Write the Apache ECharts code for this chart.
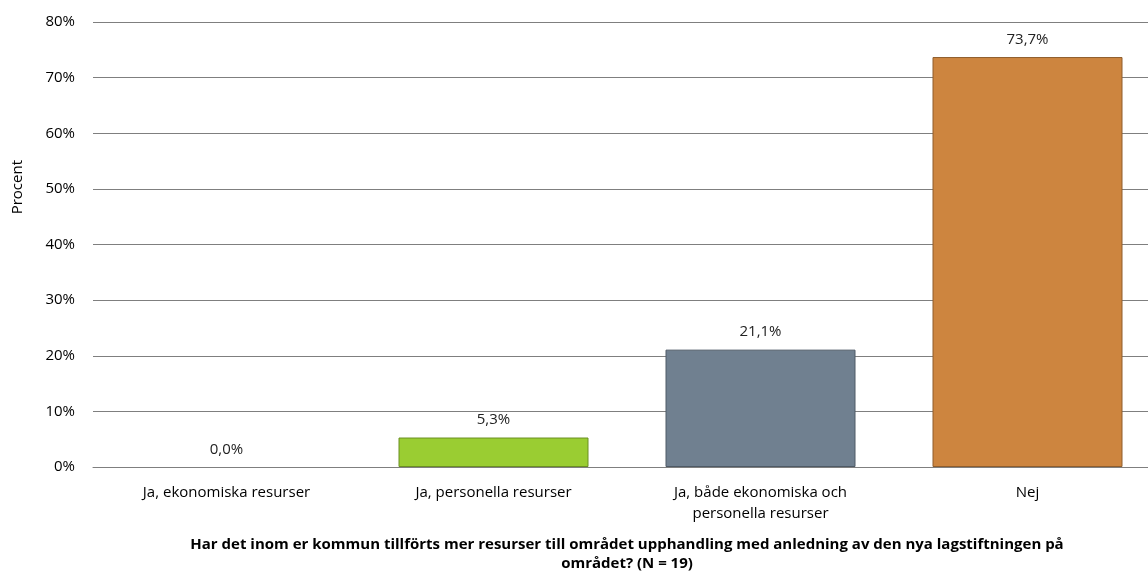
<!DOCTYPE html>
<html>
<head>
<meta charset="utf-8">
<script src="https://cdn.jsdelivr.net/npm/echarts@6/dist/echarts.min.js"></script>
<style>
  html, body { margin: 0; padding: 0; background: #fff; }
  #chart { width: 1148px; height: 571px; }
</style>
</head>
<body>
<div id="chart"></div>
<script>
// categories and values
const categories = [
  'Ja, ekonomiska resurser',
  'Ja, personella resurser',
  'Ja, både ekonomiska och\npersonella resurser',
  'Nej'
];
const values = [0.0, 5.3, 21.1, 73.7];
const barColors = ['#9ACD32', '#9ACD32', '#708090', '#CD853F'];
const barBorders = ['#6b8f22', '#6b8f22', '#4e5a66', '#8f5d2c'];
const yTicks = [0, 10, 20, 30, 40, 50, 60, 70, 80];

const font = '"Open Sans", "Noto Sans", sans-serif';

const chart = echarts.init(document.getElementById('chart'));
chart.setOption({
  animation: false,
  textStyle: { fontFamily: font },
  // plot area runs a little past the right edge of the picture
  grid: { left: 93, right: -13, top: 22, bottom: 104, outerBoundsMode: 'none', containLabel: false },
  xAxis: {
    type: 'category',
    data: categories,
    name: 'Har det inom er kommun tillförts mer resurser till området upphandling med anledning av den nya lagstiftningen på\nområdet? (N = 19)',
    nameLocation: 'middle',
    nameGap: 68,
    nameTextStyle: { fontSize: 15, fontWeight: 'bold', color: '#000', lineHeight: 19, fontFamily: font },
    axisTick: { show: false },
    axisLine: { lineStyle: { color: '#7f7f7f', width: 1 } },
    axisLabel: { fontSize: 15, color: '#000', lineHeight: 21, margin: 15, interval: 0 }
  },
  yAxis: {
    type: 'value',
    min: yTicks[0],
    max: yTicks[yTicks.length - 1],
    interval: 10,
    axisLine: { show: false },
    axisTick: { show: false },
    axisLabel: { fontSize: 15, color: '#000', margin: 18, formatter: v => v + '%' },
    splitLine: { lineStyle: { color: '#7f7f7f', width: 1 } }
  },
  graphic: [{
    type: 'text',
    left: 10,
    top: 160,
    rotation: Math.PI / 2,
    style: { text: 'Procent', fontSize: 15, fill: '#000', fontFamily: font }
  }],
  series: [{
    type: 'bar',
    barWidth: 190,
    data: values.map((v, i) => ({
      value: v,
      itemStyle: { color: barColors[i], borderColor: barBorders[i], borderWidth: v > 0 ? 1 : 0 }
    })),
    label: {
      show: true,
      position: 'top',
      distance: 10,
      fontSize: 15,
      color: '#222',
      formatter: p => p.value.toFixed(1).replace('.', ',') + '%'
    }
  }]
});
</script>
</body>
</html>
